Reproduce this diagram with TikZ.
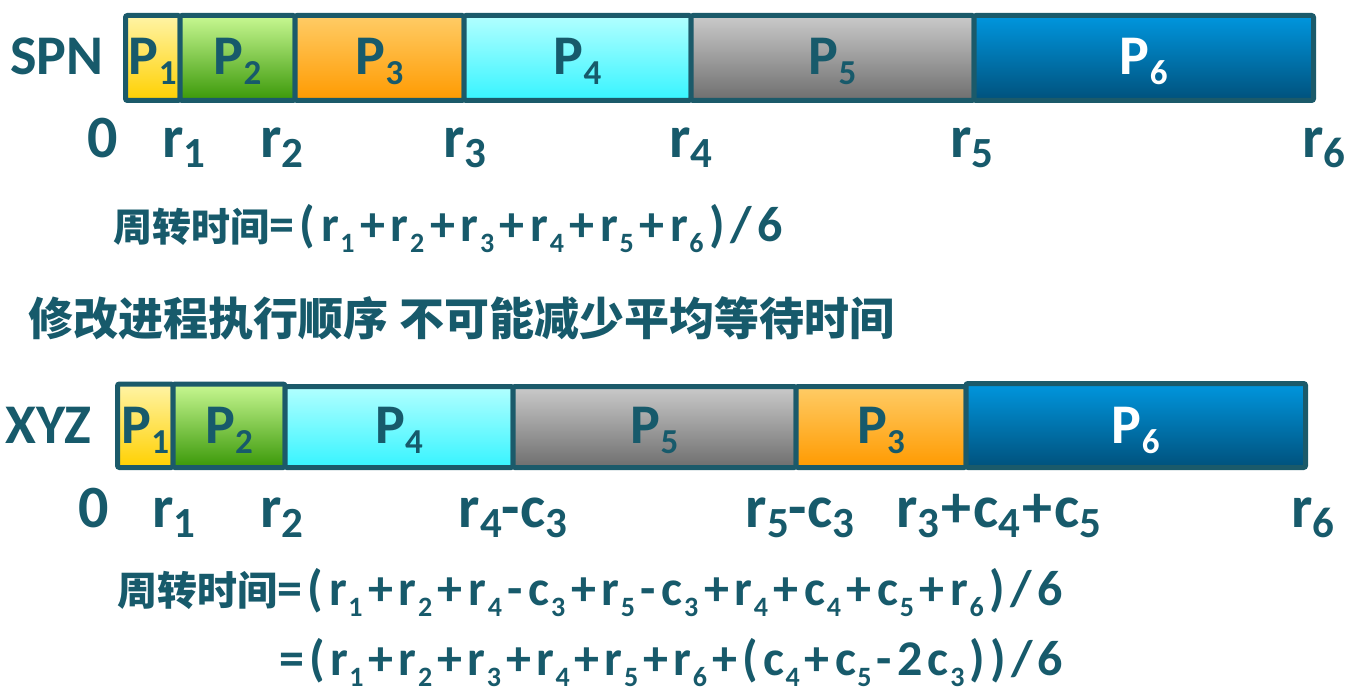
\documentclass[tikz,border=0pt]{standalone}
\usepackage{fontspec}
\setmainfont{Carlito}
\newfontfamily\cjk{Noto Sans CJK SC}
\definecolor{tc}{HTML}{175A6B}
\definecolor{bc}{HTML}{1B5A6A}
\definecolor{yA}{HTML}{FFF4A6}\definecolor{yB}{HTML}{FFD000}
\definecolor{gA}{HTML}{C8F892}\definecolor{gB}{HTML}{3A9808}
\definecolor{oA}{HTML}{FFCC66}\definecolor{oB}{HTML}{FF9A00}
\definecolor{cA}{HTML}{B2FFFF}\definecolor{cB}{HTML}{36F4FF}
\definecolor{sA}{HTML}{CACACA}\definecolor{sB}{HTML}{6E6E6E}
\definecolor{bA}{HTML}{0096DE}\definecolor{bB}{HTML}{00517C}
\newcommand\psub[1]{\raisebox{-10pt}{\fontsize{35}{35}\selectfont #1}}
\newcommand\lsub[1]{\raisebox{-10pt}{\fontsize{43}{43}\selectfont #1}}
\newcommand\fsub[1]{\kern1.5pt\raisebox{-11pt}{\fontsize{28}{28}\selectfont #1}}
\newcommand\G{\hskip 0pt plus 1fil\relax}
\newcommand\lk{\kern2pt\relax}
\newcommand\segbox[7]{\node[segbox, top color=#6, bottom color=#7, minimum width={#3-#2}, minimum height={#5-#4}] (#1) at ({(#2+#3)/2},{(#4+#5)/2}) {};}
\tikzset{
  segbox/.style={draw=bc, line width=5pt, rounded corners=2pt, inner sep=0pt, outer sep=0pt},
  plab/.style={anchor=base, text=tc, font=\bfseries\fontsize{56}{56}\selectfont, inner sep=0pt},
  rowname/.style={anchor=base west, text=tc, font=\bfseries\fontsize{56}{56}\selectfont, inner sep=0pt},
  tlab/.style={anchor=base, text=tc, font=\bfseries\fontsize{60}{60}\selectfont, inner sep=0pt},
  formula/.style={anchor=base west, text=tc, font=\bfseries\fontsize{50}{50}\selectfont, inner sep=0pt},
  title/.style={anchor=base west, text=tc, font=\cjk\bfseries\fontsize{45}{45}\selectfont, inner sep=0pt}
}
\begin{document}
\begin{tikzpicture}[x=1pt,y=-1pt]
\useasboundingbox (0,0) rectangle (1356,698);
\fill[white] (0,0) rectangle (1356,698);
% ---- SPN bar
\segbox{a1}{125.5}{180}{15.5}{100.5}{yA}{yB}
\segbox{a2}{180}{295}{15.5}{100.5}{gA}{gB}
\segbox{a3}{295}{464}{15.5}{100.5}{oA}{oB}
\segbox{a4}{464}{691}{15.5}{100.5}{cA}{cB}
\segbox{a5}{691}{974}{15.5}{100.5}{sA}{sB}
\segbox{a6}{974}{1313.5}{15.5}{100.5}{bA}{bB}
\coordinate (tb) at (0,75);
\node[plab] (la1) at (a1 |- tb) {P\psub{1}};
\node[plab] (la2) at (a2 |- tb) {P\psub{2}};
\node[plab] (la3) at (a3 |- tb) {P\psub{3}};
\node[plab] (la4) at (a4 |- tb) {P\psub{4}};
\node[plab] (la5) at (a5 |- tb) {P\psub{5}};
\node[plab, text=white] (la6) at (a6 |- tb) {P\psub{6}};
\node[rowname] (spn) at (10,75) {SPN};
% ---- SPN ticks
\node[tlab] (t0) at (103,157) {0};
\node[tlab] (t1) at (184,157) {r\lsub{1}};
\node[tlab] (t2) at (282,157) {r\lsub{2}};
\node[tlab] (t3) at (465,157) {r\lsub{3}};
\node[tlab] (t4) at (691,157) {r\lsub{4}};
\node[tlab] (t5) at (972,157) {r\lsub{5}};
\node[tlab] (t6) at (1324,157) {r\lsub{6}};
% ---- formula 1
\node[formula] (f1) at (113,241) {{\cjk\fontsize{39}{39}\selectfont 周转时间}\hbox to 514pt{=\G(\G r\fsub{1}\G+\G r\fsub{2}\G+\G r\fsub{3}\G+\G r\fsub{4}\G+\G r\fsub{5}\G+\G r\fsub{6}\G)\G/\G6}};
% ---- title
\node[title] (ttl) at (28,335) {修改进程执行顺序\hspace{11pt}不可能减少平均等待时间};
% ---- XYZ bar
\segbox{b1}{117.5}{173}{384}{467.5}{yA}{yB}
\segbox{b2}{173}{285}{384}{467.5}{gA}{gB}
\segbox{b4}{285}{513}{386.5}{467.5}{cA}{cB}
\segbox{b5}{513}{796}{386.5}{467.5}{sA}{sB}
\segbox{b3}{796}{966}{386.5}{467.5}{oA}{oB}
\segbox{b6}{966}{1305.5}{383.5}{467.5}{bA}{bB}
\coordinate (bb) at (0,443);
\node[plab] (lb1) at (b1 |- bb) {P\psub{1}};
\node[plab] (lb2) at (b2 |- bb) {P\psub{2}};
\node[plab] (lb4) at (b4 |- bb) {P\psub{4}};
\node[plab] (lb5) at (b5 |- bb) {P\psub{5}};
\node[plab] (lb3) at (b3 |- bb) {P\psub{3}};
\node[plab, text=white] (lb6) at (b6 |- bb) {P\psub{6}};
\node[rowname] (xyz) at (5,443) {XYZ};
% ---- XYZ ticks
\node[tlab] (u0) at (94,527) {0};
\node[tlab] (u1) at (174,527) {r\lsub{1}};
\node[tlab] (u2) at (282,527) {r\lsub{2}};
\node[tlab] (u3) at (513,527) {r\lsub{4}-c\lsub{3}};
\node[tlab] (u4) at (800,527) {r\lsub{5}-c\lsub{3}};
\node[tlab] (u5) at (999,527) {r\lsub{3}\lk+\lk c\lsub{4}\lk+\lk c\lsub{5}};
\node[tlab] (u6) at (1313,527) {r\lsub{6}};
% ---- formula 2
\node[formula] (f2) at (117,605) {{\cjk\fontsize{40}{40}\selectfont 周转时间}\hbox to 786pt{=\G(\G r\fsub{1}\G+\G r\fsub{2}\G+\G r\fsub{4}\G-\G c\fsub{3}\G+\G r\fsub{5}\G-\G c\fsub{3}\G+\G r\fsub{4}\G+\G c\fsub{4}\G+\G c\fsub{5}\G+\G r\fsub{6}\G)\G/\G6}};
\node[formula] (f3) at (279,675) {\hbox to 784pt{=\G(\G r\fsub{1}\G+\G r\fsub{2}\G+\G r\fsub{3}\G+\G r\fsub{4}\G+\G r\fsub{5}\G+\G r\fsub{6}\G+\G(\G c\fsub{4}\G+\G c\fsub{5}\G-\G 2\G c\fsub{3}\G)\G)\G/\G6}};
\end{tikzpicture}
\end{document}
